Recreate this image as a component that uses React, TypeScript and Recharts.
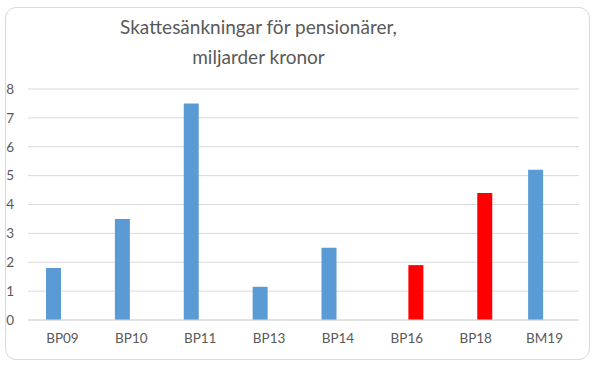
import { BarChart, Bar, XAxis, YAxis, CartesianGrid } from "recharts";

const categories = ["BP09", "BP10", "BP11", "BP13", "BP14", "BP16", "BP18", "BM19"];
const blueValues = [1.8, 3.5, 7.5, 1.15, 2.5, null, null, 5.2];
const redValues = [null, null, null, null, null, 1.9, 4.4, null];
const yTicks = [0, 1, 2, 3, 4, 5, 6, 7, 8];

const data = categories.map((name, i) => ({ name, blue: blueValues[i], red: redValues[i] }));

const font = "Lato, 'Open Sans', sans-serif";
const textColor = "#595959";

export default function App() {
  return (
    <div style={{ position: "absolute", left: 0, top: 0, width: 598, height: 369, background: "#fff", fontFamily: font }}>
      <div
        style={{
          position: "absolute",
          left: 5,
          top: 7,
          width: 583,
          height: 351,
          border: "1px solid #d9d9d9",
          borderRadius: 11,
        }}
      />
      <div
        style={{
          position: "absolute",
          left: 0,
          width: 517,
          top: 12,
          textAlign: "center",
          fontSize: 19,
          lineHeight: "30px",
          color: textColor,
        }}
      >
        Skattesänkningar för pensionärer,
        <br />
        miljarder kronor
      </div>
      <div style={{ position: "absolute", left: 0, top: 0 }}>
        <BarChart
          width={598}
          height={369}
          data={data}
          margin={{ top: 89, right: 19, bottom: 0, left: 0 }}
          barSize={15}
          barGap={3}
        >
          <CartesianGrid vertical={false} stroke="#d9d9d9" strokeWidth={1} />
          <XAxis
            dataKey="name"
            height={49}
            axisLine={{ stroke: "#d9d9d9" }}
            tickLine={false}
            tickSize={0}
            tickMargin={13}
            tick={{ fill: textColor, fontSize: 13.5, fontFamily: font }}
          />
          <YAxis
            width={28}
            domain={[0, 8]}
            ticks={yTicks}
            axisLine={false}
            tickLine={false}
            tickSize={0}
            tickMargin={14}
            tick={{ fill: textColor, fontSize: 13.5, fontFamily: font }}
          />
          <Bar dataKey="blue" fill="#5b9bd5" isAnimationActive={false} />
          <Bar dataKey="red" fill="#ff0000" isAnimationActive={false} />
        </BarChart>
      </div>
    </div>
  );
}
